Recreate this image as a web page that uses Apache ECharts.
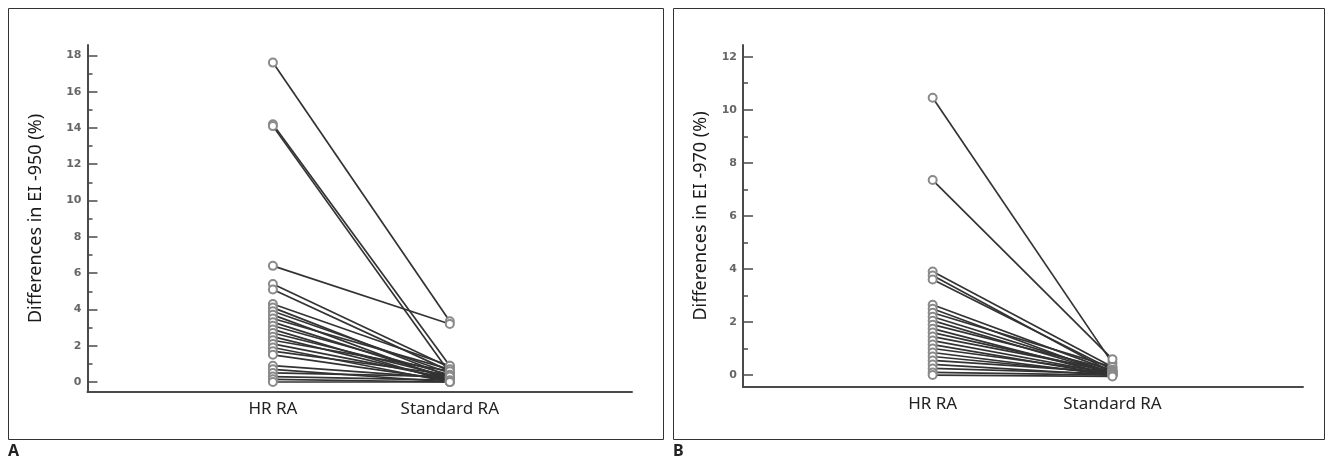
<!DOCTYPE html>
<html>
<head>
<meta charset="utf-8">
<script src="https://cdn.jsdelivr.net/npm/echarts@6/dist/echarts.min.js"></script>
<style>
html,body{margin:0;padding:0;background:#fff;}
#chart{width:1332px;height:462px;}
</style>
</head>
<body>
<div id="chart"></div>
<script>
// ---- data ----
const categories = ['HR RA', 'Standard RA'];
const titleA = 'Differences in EI -950 (%)';
const titleB = 'Differences in EI -970 (%)';
const panelLabels = ['A', 'B'];

const A_hr  = [17.6, 14.2, 14.1, 6.4, 5.4, 5.1, 4.3, 4.1, 3.9, 3.7, 3.5, 3.3, 3.1, 2.9, 2.7, 2.5, 2.3, 2.1, 1.9, 1.7, 1.5, 0.9, 0.7, 0.5, 0.3, 0.15, 0.0];
const A_std = [3.35, 0.9, 0.5, 3.2, 0.8, 0.6, 0.9, 0.3, 0.5, 0.1, 0.7, 0.2, 0.4, 0.0, 0.3, 0.1, 0.6, 0.2, 0.0, 0.4, 0.1, 0.2, 0.0, 0.3, 0.1, 0.0, 0.0];

const B_hr  = [10.45, 7.35, 3.9, 3.75, 3.6, 2.65, 2.5, 2.35, 2.2, 2.05, 1.9, 1.75, 1.6, 1.45, 1.3, 1.15, 1.0, 0.85, 0.7, 0.55, 0.4, 0.25, 0.1, 0.0];
const B_std = [0.45, 0.6, 0.3, 0.1, 0.2, 0.15, 0.0, 0.3, 0.1, 0.05, 0.2, 0.0, 0.1, 0.15, 0.05, 0.0, 0.1, 0.0, 0.05, 0.1, 0.0, 0.05, 0.0, -0.05];

const A_ticks = [0, 2, 4, 6, 8, 10, 12, 14, 16, 18];
const A_minor = [1, 3, 5, 7, 9, 11, 13, 15, 17];
const B_ticks = [0, 2, 4, 6, 8, 10, 12];
const B_minor = [1, 3, 5, 7, 9, 11];

// ---- chart ----
const chart = echarts.init(document.getElementById('chart'), null, {renderer: 'canvas'});
const axisColor = '#4a4a4a';
const labelFont = 'Noto Sans, Open Sans, sans-serif';

function xAxisCfg(gi, min, max) {
  return {
    type: 'value', gridIndex: gi, min: min, max: max,
    axisLine: {show: true, onZero: false, lineStyle: {color: axisColor, width: 2}},
    axisTick: {show: false},
    splitLine: {show: false},
    axisLabel: {
      show: true, customValues: [1, 2], margin: 9,
      formatter: v => categories[Math.round(v) - 1] || '',
      color: '#222', fontSize: 17, fontFamily: labelFont
    }
  };
}
function yAxisCfg(gi, min, max, ticks, name, gap) {
  return {
    type: 'value', gridIndex: gi, min: min, max: max, position: 'left',
    axisLine: {show: true, onZero: false, lineStyle: {color: axisColor, width: 2}},
    axisTick: {show: true, inside: true, length: 10, customValues: ticks, lineStyle: {color: axisColor, width: 1.5}},
    splitLine: {show: false},
    axisLabel: {show: true, customValues: ticks, margin: 6, color: '#666', fontSize: 11, fontWeight: 'bold', fontFamily: 'DejaVu Sans, sans-serif'},
    name: name, nameLocation: 'middle', nameGap: gap, nameRotate: 90,
    nameTextStyle: {color: '#1a1a1a', fontSize: 18, fontFamily: labelFont}
  };
}
function yMinorCfg(gi, min, max, ticks) {
  return {
    type: 'value', gridIndex: gi, min: min, max: max, position: 'left', offset: 0,
    axisLine: {show: false, onZero: false},
    axisTick: {show: true, inside: true, length: 5, customValues: ticks, lineStyle: {color: axisColor, width: 1.5}},
    axisLabel: {show: false}, splitLine: {show: false}
  };
}
function pairSeries(hr, std, xi, yi) {
  return hr.map((v, i) => ({
    type: 'line', xAxisIndex: xi, yAxisIndex: yi,
    data: [[1, v], [2, std[i]]],
    symbol: 'emptyCircle', symbolSize: 8, showSymbol: true,
    lineStyle: {color: '#333', width: 1.7},
    itemStyle: {color: '#8a8a8a', borderWidth: 1.2},
    emphasis: {disabled: true}, silent: true, animation: false
  }));
}

const option = {
  animation: false,
  backgroundColor: '#fff',
  grid: [
    {left: 87.5, top: 45, width: 544.5, height: 347},
    {left: 743, top: 45, width: 560, height: 342}
  ],
  xAxis: [
    xAxisCfg(0, -0.048, 3.03),
    xAxisCfg(1, -0.055, 3.06)
  ],
  yAxis: [
    yAxisCfg(0, -0.55, 18.57, A_ticks, titleA, 43),
    yAxisCfg(1, -0.45, 12.44, B_ticks, titleB, 33),
    yMinorCfg(0, -0.55, 18.57, A_minor),
    yMinorCfg(1, -0.45, 12.44, B_minor)
  ],
  series: [].concat(pairSeries(A_hr, A_std, 0, 0), pairSeries(B_hr, B_std, 1, 1)),
  graphic: [
    {type: 'rect', shape: {x: 8.5, y: 8.5, width: 655, height: 431}, style: {fill: 'none', stroke: '#333', lineWidth: 1}, silent: true},
    {type: 'rect', shape: {x: 673.5, y: 8.5, width: 651, height: 431}, style: {fill: 'none', stroke: '#333', lineWidth: 1}, silent: true},
    {type: 'text', left: 8, top: 443, style: {text: panelLabels[0], fontSize: 16, fontWeight: 'bold', fill: '#222', fontFamily: labelFont}},
    {type: 'text', left: 673, top: 443, style: {text: panelLabels[1], fontSize: 16, fontWeight: 'bold', fill: '#222', fontFamily: labelFont}}
  ]
};
chart.setOption(option);
</script>
</body>
</html>
